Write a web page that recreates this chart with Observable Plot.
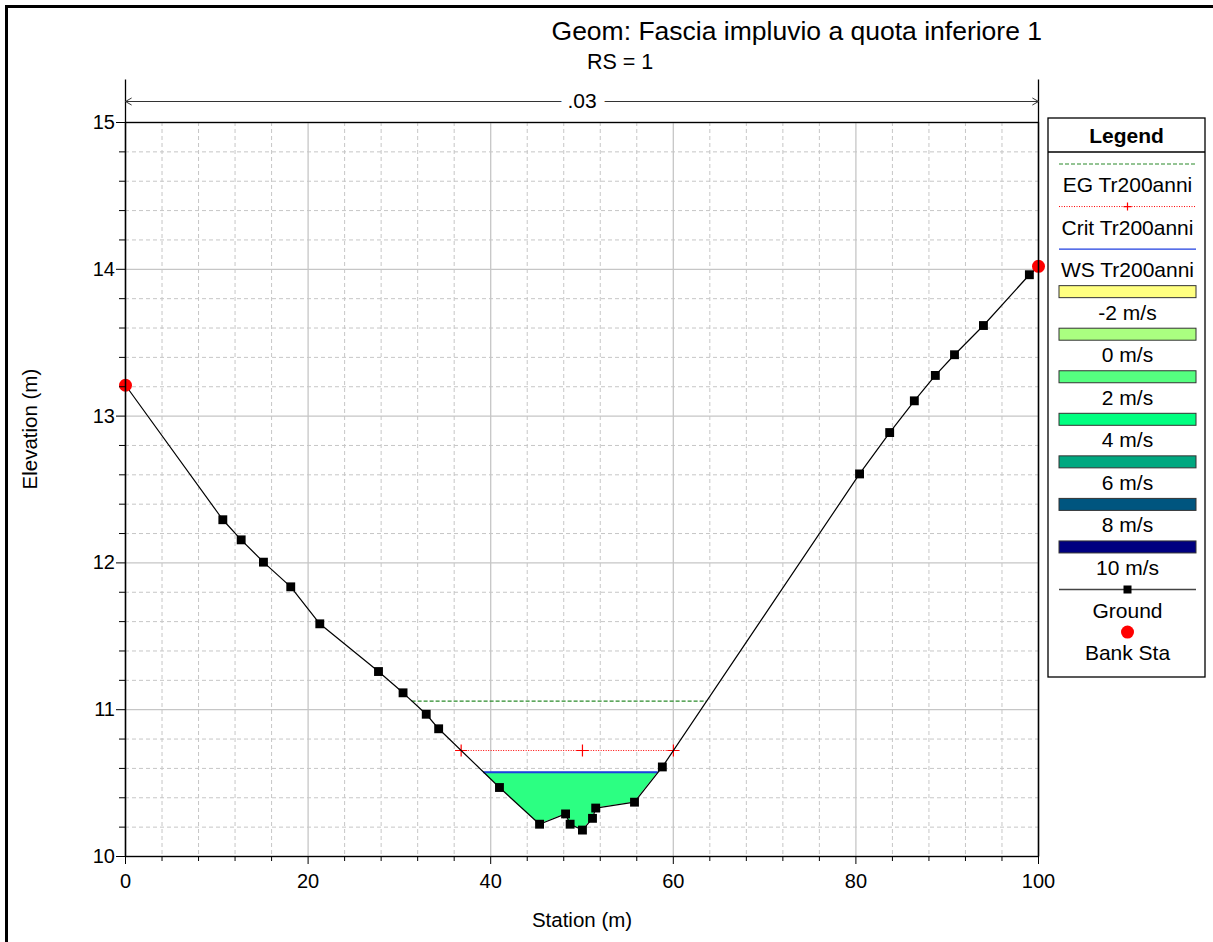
<!DOCTYPE html>
<html><head><meta charset="utf-8">
<script src="https://cdn.jsdelivr.net/npm/d3@7"></script>
<script src="https://cdn.jsdelivr.net/npm/@observablehq/plot@0.6"></script>
<style>
html,body{margin:0;padding:0;background:#fff;}
#wrap{position:relative;width:1213px;height:942px;overflow:hidden;font-family:Arial,"Liberation Sans",sans-serif;}
#wrap > svg{position:absolute;left:0;top:0;}
#border{position:absolute;left:5px;top:5px;width:1400px;height:1100px;border-top:3px solid #000;border-left:3px solid #000;pointer-events:none;}
#title{position:absolute;right:171px;top:18px;font-size:26.5px;line-height:1;white-space:nowrap;color:#000;}
#subtitle{position:absolute;left:587px;top:51.5px;font-size:21.5px;line-height:1;white-space:nowrap;color:#000;}
</style></head><body>
<div id="wrap">
  <div id="border"></div>
  <div id="title">Geom: Fascia impluvio a quota inferiore 1</div>
  <div id="subtitle">RS = 1</div>
</div>
<script>
// ---- data ----
const stations   = [0, 10.66, 12.67, 15.11, 18.1, 21.28, 27.71, 30.4, 32.94, 34.3, 40.96, 45.35, 48.2, 48.7, 50.05, 51.15, 51.5, 55.75, 58.8, 80.4, 83.7, 86.4, 88.7, 90.8, 93.97, 99.0, 100];
const elevations = [13.21, 12.294, 12.157, 12.005, 11.837, 11.585, 11.26, 11.115, 10.969, 10.87, 10.47, 10.22, 10.29, 10.22, 10.18, 10.26, 10.33, 10.37, 10.61, 12.606, 12.888, 13.104, 13.277, 13.418, 13.617, 13.963, 14.02];
const bankStations = [0, 100];
const wsElev = 10.574;     // WS Tr200anni
const critElev = 10.722;   // Crit Tr200anni
const egElev = 11.058;     // EG Tr200anni
const manningN = [{from: 0, to: 100, label: ".03"}];
const xTicks = [0, 20, 40, 60, 80, 100];
const yTicks = [10, 11, 12, 13, 14, 15];
const lineLegend = ["EG Tr200anni", "Crit Tr200anni", "WS Tr200anni"];
const velLabels = ["-2 m/s", "0 m/s", "2 m/s", "4 m/s", "6 m/s", "8 m/s", "10 m/s"];
const velColors = ["#ffff80", "#aaff80", "#55ff80", "#00ff80", "#00a880", "#00557f", "#000080"];
const fillColor = "#2cff82";

// ---- derived ----
const ground = stations.map((s, i) => ({x: s, y: elevations[i]}));
const thalweg = ground.reduce((a, b) => (b.y < a.y ? b : a));
const banks = ground.filter(d => bankStations.includes(d.x));
function crossings(level) {
  const xs = [];
  for (let i = 0; i < ground.length - 1; i++) {
    const a = ground[i], b = ground[i + 1];
    if ((a.y - level) * (b.y - level) < 0) xs.push(a.x + (level - a.y) / (b.y - a.y) * (b.x - a.x));
  }
  return [xs[0], xs[xs.length - 1]];
}
const [wsL, wsR] = crossings(wsElev);
const [crL, crR] = crossings(critElev);
const [egL, egR] = crossings(egElev);
const wet = [{x: wsL, y: wsElev}, ...ground.filter(d => d.x > wsL && d.x < wsR), {x: wsR, y: wsElev}];
const critMarks = [crL, thalweg.x, crR];
const xMinor = d3.range(0, 101, 4).filter(v => v % 20 !== 0);
const yMinor = d3.range(50, 76, 1).filter(v => v % 5 !== 0).map(v => v / 5);
const nLineElev = 15.143, nTopElev = 15.29;

const FONT = "Arial, 'Liberation Sans', sans-serif";
const EG_COLOR = "#2a8a2a";
const grid = {stroke: "#c6c6c6", strokeOpacity: 1};
const plot = Plot.plot({
  width: 1213, height: 942,
  marginLeft: 125, marginRight: 175, marginTop: 122, marginBottom: 86,
  x: {domain: [0, 100]},
  y: {domain: [10, 15]},
  style: {fontFamily: FONT, fontSize: "20px", color: "#000", background: "transparent", overflow: "visible"},
  marks: [
    Plot.gridX(xMinor, {...grid, strokeDasharray: "4,3"}),
    Plot.gridY(yMinor, {...grid, strokeDasharray: "4,3"}),
    Plot.gridX(xTicks, {...grid, strokeWidth: 1.3}),
    Plot.gridY(yTicks, {...grid, strokeWidth: 1.3}),
    Plot.areaY(wet, {x: "x", y1: "y", y2: () => wsElev, fill: fillColor}),
    Plot.ruleY([egElev], {x1: egL, x2: egR, stroke: EG_COLOR, strokeWidth: 1.2, strokeDasharray: "4,2"}),
    Plot.ruleY([critElev], {x1: crL, x2: crR, stroke: "#ff0000", strokeDasharray: "1,1.5"}),
    Plot.dot(critMarks, {x: d => d, y: () => critElev, symbol: "plus", r: 4, stroke: "#ff0000", strokeWidth: 1.2}),
    Plot.ruleY([wsElev], {x1: wsL, x2: wsR, stroke: "#1f3fe0", strokeWidth: 2}),
    Plot.line(ground, {x: "x", y: "y", stroke: "#000", strokeWidth: 1.2}),
    Plot.dot(ground, {x: "x", y: "y", symbol: "square", r: 5, fill: "#000"}),
    Plot.dot(banks, {x: "x", y: "y", r: 6.5, fill: "#ff0000"}),
    Plot.frame({stroke: "#000", strokeWidth: 1.3}),
    Plot.ruleX(manningN.flatMap(d => [d.from, d.to]), {y1: () => 10, y2: () => nTopElev, stroke: "#000", strokeWidth: 1.3}),
    Plot.arrow(manningN.flatMap(d => [{a: (d.from + d.to) / 2, b: d.from}, {a: (d.from + d.to) / 2, b: d.to}]),
      {x1: "a", x2: "b", y1: () => nLineElev, y2: () => nLineElev, stroke: "#333", strokeWidth: 1, headLength: 10, headAngle: 60}),
    Plot.text(manningN, {x: d => (d.from + d.to) / 2, y: () => nLineElev, text: "label", fill: "#000", stroke: "#fff", strokeWidth: 18, paintOrder: "stroke", fontSize: 21}),
    Plot.axisX(xMinor, {tickSize: 5, tickFormat: () => "", label: null, stroke: "#000"}),
    Plot.axisX(xTicks, {tickSize: 8, tickPadding: 9, tickFormat: "d", label: null, stroke: "#000", fontSize: 20}),
    Plot.axisY(yMinor, {tickSize: 6, tickFormat: () => "", label: null, stroke: "#000"}),
    Plot.axisY(yTicks, {tickSize: 9, tickPadding: 1.5, tickFormat: "d", label: null, stroke: "#000", fontSize: 20}),
    Plot.text(["Station (m)"], {frameAnchor: "bottom", dy: 70, fontSize: 20.5}),
    Plot.text(["Elevation (m)"], {frameAnchor: "left", dx: -95.5, rotate: -90, fontSize: 20.5})
  ]
});
document.getElementById("wrap").prepend(plot);

// ---- legend ----
const L = d3.select("#wrap").append("svg")
  .attr("width", 162).attr("height", 564)
  .style("position", "absolute").style("left", "1047px").style("top", "117px")
  .style("font-family", FONT).style("font-size", "21px");
L.append("rect").attr("x", 1).attr("y", 1).attr("width", 157).attr("height", 559)
  .attr("fill", "#fff").attr("stroke", "#000").attr("stroke-width", 1.3);
L.append("text").attr("x", 79.5).attr("y", 18.5).attr("text-anchor", "middle").attr("dominant-baseline", "central")
  .attr("font-weight", "bold").text("Legend");
L.append("line").attr("x1", 1).attr("x2", 158).attr("y1", 35).attr("y2", 35).attr("stroke", "#000").attr("stroke-width", 1.3);
const step = 42.55, y0 = 47, xa = 12, xb = 149, xc = 80.5;
const textAt = (i, t) => L.append("text").attr("x", xc).attr("y", y0 + step * i + 20.5)
  .attr("text-anchor", "middle").attr("dominant-baseline", "central").attr("fill", "#000").text(t);
// EG
L.append("line").attr("x1", xa).attr("x2", xb).attr("y1", y0).attr("y2", y0).attr("stroke", EG_COLOR).attr("stroke-width", 1.2).attr("stroke-dasharray", "4,2");
textAt(0, lineLegend[0]);
// Crit
L.append("line").attr("x1", xa).attr("x2", xb).attr("y1", y0 + step).attr("y2", y0 + step).attr("stroke", "#ff0000").attr("stroke-dasharray", "1,1.5");
L.append("path").attr("d", `M${xc - 4},${y0 + step}h8M${xc},${y0 + step - 4}v8`).attr("stroke", "#ff0000").attr("stroke-width", 1.2);
textAt(1, lineLegend[1]);
// WS
L.append("line").attr("x1", xa).attr("x2", xb).attr("y1", y0 + 2 * step).attr("y2", y0 + 2 * step).attr("stroke", "#1f3fe0").attr("stroke-width", 1.3);
textAt(2, lineLegend[2]);
// velocities
velLabels.forEach((t, k) => {
  const i = 3 + k;
  L.append("rect").attr("x", xa).attr("y", y0 + step * i - 6).attr("width", xb - xa).attr("height", 12)
    .attr("fill", velColors[k]).attr("stroke", "#333").attr("stroke-width", 1);
  textAt(i, t);
});
// Ground
{
  const i = 10, yy = y0 + step * i;
  L.append("line").attr("x1", xa).attr("x2", xb).attr("y1", yy).attr("y2", yy).attr("stroke", "#444").attr("stroke-width", 1.3);
  L.append("rect").attr("x", xc - 4).attr("y", yy - 4).attr("width", 8).attr("height", 8).attr("fill", "#000");
  textAt(i, "Ground");
}
// Bank Sta
{
  const i = 11, yy = y0 + step * i;
  L.append("circle").attr("cx", xc).attr("cy", yy).attr("r", 6.5).attr("fill", "#ff0000");
  textAt(i, "Bank Sta");
}
</script>
</body></html>
